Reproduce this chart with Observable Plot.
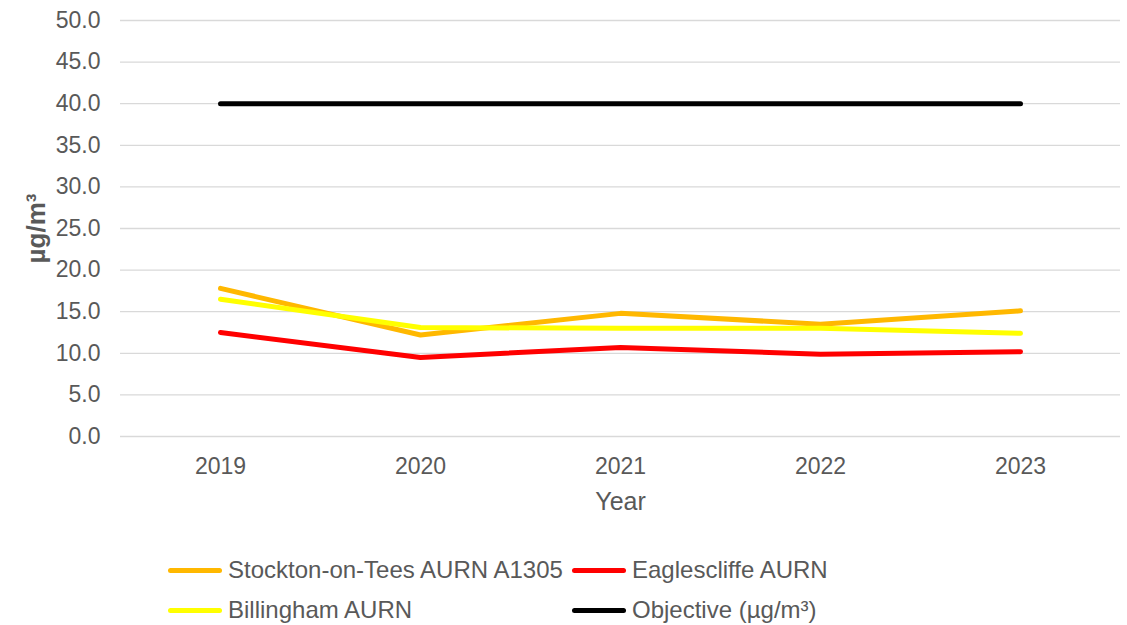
<!DOCTYPE html>
<html>
<head>
<meta charset="utf-8">
<script src="https://cdn.jsdelivr.net/npm/d3@7"></script>
<script src="https://cdn.jsdelivr.net/npm/@observablehq/plot@0.6"></script>
<style>
  html, body { margin: 0; padding: 0; background: #fff; }
  body { font-family: "Liberation Sans", Arial, sans-serif; width: 1127px; height: 625px; overflow: hidden; }
  #chart { position: relative; width: 1127px; }
  #legend { position: relative; width: 1127px; height: 85px; }
  .item { position: absolute; display: flex; align-items: center; font-size: 24px; color: #595959; font-family: "Liberation Sans", Arial, sans-serif; height: 28px; }
  .sw { width: 54px; height: 5px; border-radius: 3px; margin-right: 6px; }
</style>
</head>
<body>
<div id="chart"></div>
<div id="legend"></div>
<script>
const years = ["2019", "2020", "2021", "2022", "2023"];
const seriesNames = ["Stockton-on-Tees AURN A1305", "Eaglescliffe AURN", "Billingham AURN", "Objective (µg/m³)"];
const stockton = [17.8, 12.2, 14.8, 13.5, 15.1];
const eaglescliffe = [12.5, 9.5, 10.7, 9.9, 10.2];
const billingham = [16.5, 13.1, 13.0, 13.0, 12.4];
const objective = [40, 40, 40, 40, 40];
const yTicks = [0, 5, 10, 15, 20, 25, 30, 35, 40, 45, 50];
const colors = ["#FFB800", "#FF0000", "#FFFF00", "#000000"];

const seriesValues = [stockton, eaglescliffe, billingham, objective];
const data = [];
seriesNames.forEach((s, i) => years.forEach((y, j) => data.push({series: s, year: y, value: seriesValues[i][j]})));

// draw order: stockton, billingham, eaglescliffe, objective
const drawOrder = [0, 2, 1, 3];

const plot = Plot.plot({
  width: 1127,
  height: 540,
  marginLeft: 120,
  marginRight: 7,
  marginTop: 20,
  marginBottom: 104,
  style: {fontFamily: "Liberation Sans, Arial, sans-serif", background: "#fff"},
  x: {type: "point", domain: years, padding: 0.5},
  y: {domain: [0, 50]},
  marks: [
    Plot.gridY(yTicks, {stroke: "#d9d9d9", strokeOpacity: 1, strokeWidth: 1.3}),
    Plot.axisY(yTicks, {tickSize: 0, tickPadding: 20, fontSize: 23, fill: "#595959", tickFormat: d => d.toFixed(1), label: null}),
    Plot.axisX({tickSize: 0, tickPadding: 21, fontSize: 23, fill: "#595959", label: null}),
    ...drawOrder.map(i => Plot.line(data.filter(d => d.series === seriesNames[i]), {
      x: "year", y: "value", stroke: colors[i], strokeWidth: 5, strokeLinecap: "round", strokeLinejoin: "round"
    })),
    Plot.text(["Year"], {frameAnchor: "bottom", dy: 65, fontSize: 25, fill: "#595959", textAnchor: "middle", lineAnchor: "middle"}),
    Plot.text(["µg/m³"], {frameAnchor: "left", dx: -84, rotate: -90, fontSize: 26, fontWeight: "bold", fill: "#595959", textAnchor: "middle", lineAnchor: "middle"})
  ]
});
document.getElementById("chart").appendChild(plot);

const legendPos = [
  {i: 0, left: 168, top: 30},
  {i: 1, left: 572, top: 30},
  {i: 2, left: 168, top: 70},
  {i: 3, left: 572, top: 70}
];
const legend = document.getElementById("legend");
legendPos.forEach(p => {
  const div = document.createElement("div");
  div.className = "item";
  div.style.left = p.left + "px";
  div.style.top = (p.top - 14) + "px";
  const sw = document.createElement("span");
  sw.className = "sw";
  sw.style.background = colors[p.i];
  const t = document.createElement("span");
  t.textContent = seriesNames[p.i];
  div.appendChild(sw);
  div.appendChild(t);
  legend.appendChild(div);
});
</script>
</body>
</html>
